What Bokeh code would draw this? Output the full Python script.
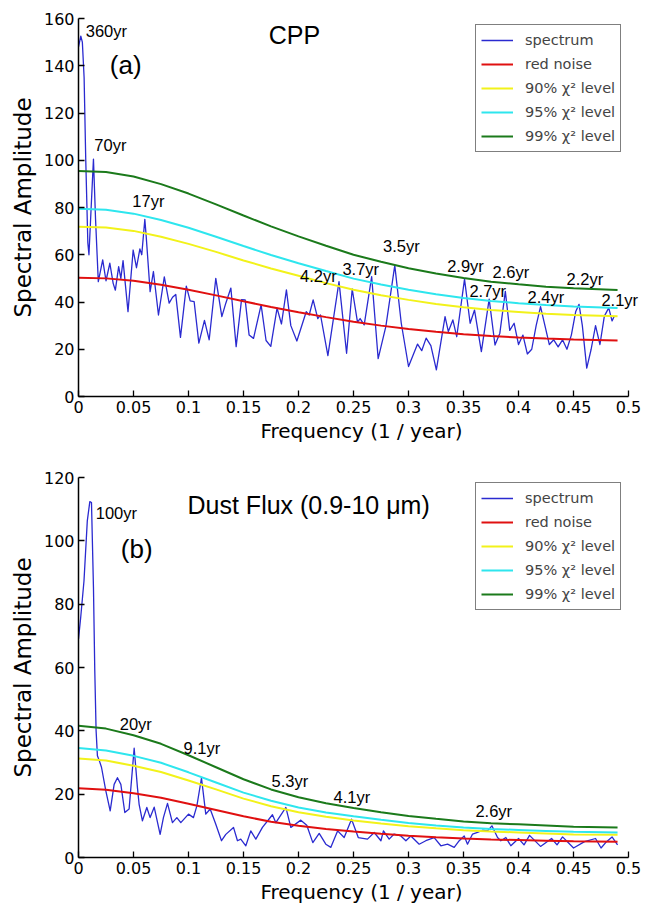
from bokeh.plotting import figure
from bokeh.layouts import column
from bokeh.models import Legend, LegendItem, FixedTicker, Range1d, LabelSet, ColumnDataSource
from bokeh.core.properties import value
from bokeh.embed import file_html
from bokeh.resources import INLINE

# ---------------- data ----------------
x_ticks = [0, 0.05, 0.1, 0.15, 0.2, 0.25, 0.3, 0.35, 0.4, 0.45, 0.5]
x_tick_labels = ["0", "0.05", "0.1", "0.15", "0.2", "0.25", "0.3", "0.35", "0.4", "0.45", "0.5"]
cpp_y_ticks = [0, 20, 40, 60, 80, 100, 120, 140, 160]
dust_y_ticks = [0, 20, 40, 60, 80, 100, 120]

cpp_freq = [0.0, 0.0021, 0.0035, 0.0051, 0.0066, 0.0085, 0.0095, 0.0115, 0.0136, 0.0155,
            0.0180, 0.0220, 0.0250, 0.0285, 0.0315, 0.0335, 0.0365, 0.0385, 0.0405, 0.0450,
            0.0497, 0.0527, 0.0558, 0.0575, 0.0603, 0.0615, 0.0651, 0.0681, 0.0727, 0.0780,
            0.0824, 0.0855, 0.0884, 0.0927, 0.0980, 0.1015, 0.1051, 0.1094, 0.1145, 0.1188,
            0.1248, 0.1303, 0.1339, 0.1385, 0.1433, 0.1482, 0.1515, 0.1551, 0.1591, 0.1660,
            0.1705, 0.1748, 0.1805, 0.1845, 0.1890, 0.1930, 0.1985, 0.2070, 0.2097, 0.2133,
            0.2175, 0.2200, 0.2267, 0.2368, 0.2437, 0.2488, 0.2536, 0.2560, 0.2597, 0.2665,
            0.2724, 0.2794, 0.2875, 0.2934, 0.3000, 0.3082, 0.3120, 0.3160, 0.3203, 0.3253,
            0.3332, 0.3362, 0.3403, 0.3438, 0.3509, 0.3560, 0.3600, 0.3662, 0.3733, 0.3786,
            0.3830, 0.3880, 0.3920, 0.3960, 0.4000, 0.4040, 0.4080, 0.4120, 0.4160, 0.4200,
            0.4240, 0.4280, 0.4320, 0.4360, 0.4400, 0.4440, 0.4480, 0.4520, 0.4550, 0.4580,
            0.4620, 0.4660, 0.4700, 0.4740, 0.4780, 0.4820, 0.4850, 0.4870]
cpp_amp = [148, 152.5, 150, 135, 100, 65, 60, 80, 100.5, 75,
           48.6, 57.8, 49, 56.4, 47.9, 45, 55, 50, 57.5, 35.9,
           62, 54.5, 62.5, 60, 75, 68, 44.4, 52.9, 34.5, 50.6,
           39.5, 42, 43.2, 25, 46.7, 40.5, 40.2, 22.6, 32.2, 24,
           50, 33.8, 39.5, 45.9, 21.1, 41, 40.9, 26, 24.6, 38.8,
           23.7, 21.2, 37.4, 30.7, 45.1, 30, 23.5, 35.9, 34.5, 40.9,
           33, 34.5, 17.3, 48.6, 18.3, 45.5, 31.5, 33, 30.3, 50.7,
           16, 29.7, 55.5, 31, 12.7, 22.2, 19.4, 24.7, 21.5, 11.3,
           33.8, 27.5, 32.4, 25.3, 49.7, 31, 36.6, 19, 41.2, 21.8,
           26.8, 44.5, 28, 31, 22, 26, 18, 20, 30, 38,
           30, 22, 24, 21, 24, 20, 26, 36, 39, 30,
           12, 20, 30, 22, 34, 37.5, 32, 34]

dust_freq = [0.0, 0.002, 0.005, 0.008, 0.0103, 0.0118, 0.0136, 0.0148, 0.0160, 0.0172,
             0.0190, 0.0209, 0.0248, 0.0288, 0.0324, 0.0354, 0.0385, 0.0421, 0.0460, 0.0506,
             0.0536, 0.0551, 0.0581, 0.0621, 0.0651, 0.0688, 0.0742, 0.0772, 0.0809, 0.0854,
             0.0894, 0.0930, 0.1000, 0.1045, 0.1076, 0.1118, 0.1157, 0.1197, 0.1248, 0.1300,
             0.1339, 0.1409, 0.1445, 0.1475, 0.1521, 0.1566, 0.1612, 0.1672, 0.1763, 0.1794,
             0.1885, 0.1930, 0.2021, 0.2075, 0.2130, 0.2188, 0.2248, 0.2294, 0.2355, 0.2415,
             0.2482, 0.2543, 0.2627, 0.2688, 0.2749, 0.2772, 0.2824, 0.2869, 0.2930, 0.2976,
             0.3021, 0.3097, 0.3157, 0.3233, 0.3294, 0.3355, 0.3415, 0.3461, 0.3506, 0.3536,
             0.3582, 0.3627, 0.3673, 0.3718, 0.3758, 0.3809, 0.3839, 0.3885, 0.3930, 0.4000,
             0.4050, 0.4100, 0.4200, 0.4300, 0.4350, 0.4400, 0.4500, 0.4600, 0.4700, 0.4750,
             0.4800, 0.4850, 0.4900]
dust_amp = [69, 75.8, 87.4, 106.3, 112.4, 112.1, 85.3, 59, 40, 32.1,
            30.5, 28.5, 21.1, 14.7, 23.1, 25.2, 23.1, 14.2, 15.3, 34.5,
            22, 16.8, 11.6, 15.8, 12.6, 15.9, 7.3, 12.6, 17.1, 11,
            12.6, 11, 13.7, 12.6, 16.3, 25.1, 13.7, 15.3, 10.5, 5.3,
            7.3, 9.5, 5.3, 5.8, 3.7, 8.4, 5.8, 9.5, 13.5, 11,
            15.8, 9.5, 11.8, 10.2, 4.7, 7.6, 4.2, 3.2, 8.4, 6.3,
            12.1, 6.3, 5.8, 7.9, 5.3, 8.4, 5.8, 7.4, 6.8, 5.3,
            6.8, 4.2, 5.3, 6.3, 3.7, 4.2, 3.2, 5.3, 6.8, 4.2,
            7.4, 7.9, 8.6, 8.4, 10, 6.3, 5.3, 6.3, 3.7, 6,
            4, 7, 3.5, 6, 4, 6.5, 3, 5, 6, 3,
            5, 6.5, 4]

curve_freq = [0, 0.025, 0.05, 0.075, 0.1, 0.125, 0.15, 0.175, 0.2, 0.225,
              0.25, 0.275, 0.3, 0.325, 0.35, 0.375, 0.4, 0.425, 0.45, 0.49]
cpp_red = [50.3, 50.0, 49.0, 47.3, 45.2, 42.8, 40.3, 37.9, 35.7, 33.6,
           31.6, 30.0, 28.6, 27.4, 26.4, 25.6, 25.0, 24.5, 24.1, 23.7]
cpp_90 = [71.9, 71.5, 70.1, 67.6, 64.6, 61.2, 57.6, 54.2, 51.1, 48.0,
          45.2, 42.9, 40.9, 39.2, 37.8, 36.6, 35.8, 35.0, 34.5, 34.0]
cpp_95 = [79.5, 79.0, 77.4, 74.7, 71.4, 67.6, 63.7, 59.9, 56.4, 53.1,
          49.9, 47.4, 45.2, 43.3, 41.7, 40.4, 39.5, 38.7, 38.1, 37.5]
cpp_99 = [95.5, 95.0, 93.1, 89.9, 85.9, 81.3, 76.6, 72.0, 67.8, 63.8,
          60.0, 57.0, 54.3, 52.1, 50.2, 48.6, 47.5, 46.5, 45.8, 45.1]
dust_red = [21.9, 21.4, 20.3, 18.9, 17.0, 15.0, 13.0, 11.3, 10.0, 9.0,
            8.2, 7.5, 6.9, 6.4, 6.0, 5.7, 5.5, 5.3, 5.1, 5.0]
dust_90 = [31.3, 30.6, 29.0, 27.0, 24.3, 21.5, 18.6, 16.2, 14.3, 12.9,
           11.7, 10.7, 9.9, 9.2, 8.6, 8.2, 7.9, 7.6, 7.3, 7.2]
dust_95 = [34.6, 33.8, 32.1, 29.9, 26.9, 23.7, 20.5, 17.9, 15.8, 14.2,
           13.0, 11.9, 10.9, 10.1, 9.5, 9.0, 8.7, 8.4, 8.1, 7.9]
dust_99 = [41.6, 40.7, 38.6, 35.9, 32.3, 28.5, 24.7, 21.5, 19.0, 17.1,
           15.6, 14.3, 13.1, 12.2, 11.4, 10.8, 10.5, 10.1, 9.7, 9.5]

cpp_peak_labels = ["70yr", "17yr", "4.2yr", "3.7yr", "3.5yr", "2.9yr", "2.7yr", "2.6yr", "2.4yr", "2.2yr", "2.1yr"]
cpp_peak_x = [0.0290, 0.0635, 0.218, 0.2566, 0.2935, 0.3518, 0.372, 0.393, 0.4248, 0.4603, 0.492]
cpp_peak_y = [104.0, 80.1, 48.6, 51.5, 61.1, 52.6, 42.0, 50.2, 39.6, 47.2, 38.4]
cpp_top_label = "360yr"
cpp_top_x = 0.0066
cpp_top_y = 152.2

dust_peak_labels = ["20yr", "9.1yr", "5.3yr", "4.1yr", "2.6yr"]
dust_peak_x = [0.0521, 0.1121, 0.1921, 0.2485, 0.3775]
dust_peak_y = [40.2, 32.6, 22.3, 17.1, 12.9]
dust_top_label = "100yr"
dust_top_x = 0.0157
dust_top_y = 107.0

legend_labels = ["spectrum", "red noise", "90% χ² level", "95% χ² level", "99% χ² level"]

# ---------------- style ----------------
C_SPEC = "#2a2ad0"
C_RED = "#e01010"
C_YEL = "#f2f21a"
C_CYAN = "#2ee6ee"
C_GREEN = "#1b7a1b"
ANNOT_FONT = value("Liberation Sans")
AXIS_FONT = "DejaVu Sans"
X_VIEW_END = 0.5145   # frame extends a little past 0.5 so the "2.1yr" label is not clipped
FRAME_W = 566


def add_labels(p, xs, ys, texts, size, align):
    src = ColumnDataSource(dict(x=xs, y=ys, text=texts))
    p.add_layout(LabelSet(x="x", y="y", text="text", source=src, text_font=ANNOT_FONT,
                          text_font_size=value(size), text_align=value(align),
                          text_baseline=value("alphabetic"), text_color=value("black")))


def make_panel(freq, amp, red, l90, l95, l99, ymax, yticks, top_pad, frame_h, bottom_pad,
               legend_top_off, title, title_x, title_y, tag, tag_x, tag_y,
               top_label, top_x, top_y, labels, lx, ly):
    p = figure(frame_width=FRAME_W, frame_height=frame_h, output_backend="svg", toolbar_location=None,
               x_range=Range1d(0, X_VIEW_END), y_range=Range1d(0, ymax),
               min_border_left=78, min_border_right=0, min_border_top=top_pad,
               min_border_bottom=bottom_pad, outline_line_color=None, background_fill_color="white")
    p.grid.visible = False
    for ax, ticks in ((p.xaxis[0], x_ticks), (p.yaxis[0], yticks)):
        ax.ticker = FixedTicker(ticks=ticks)
        ax.major_tick_in = 6
        ax.major_tick_out = 0
        ax.minor_tick_in = 0
        ax.minor_tick_out = 0
        ax.axis_line_width = 1.5
        ax.axis_line_color = "black"
        ax.major_tick_line_width = 1.3
        ax.major_label_text_font = AXIS_FONT
        ax.major_label_text_font_size = "16px"
        ax.major_label_text_color = "black"
        ax.axis_label_text_font = AXIS_FONT
        ax.axis_label_text_font_style = "normal"
        ax.axis_label_text_color = "black"
    p.xaxis[0].bounds = (0, 0.5)
    p.xaxis[0].major_label_overrides = {t: s for t, s in zip(x_ticks, x_tick_labels)}
    p.xaxis[0].axis_label = "Frequency (1 / year)"
    p.xaxis[0].axis_label_text_font_size = "20px"
    p.xaxis[0].axis_label_standoff = 3
    p.xaxis[0].major_label_standoff = 4
    p.yaxis[0].axis_label = "Spectral Amplitude"
    p.yaxis[0].axis_label_text_font_size = "23px"
    p.yaxis[0].axis_label_standoff = 5
    p.yaxis[0].major_label_standoff = 4

    r_spec = p.line(freq, amp, line_color=C_SPEC, line_width=1.3, line_join="round")
    r_red = p.line(curve_freq, red, line_color=C_RED, line_width=2)
    r_90 = p.line(curve_freq, l90, line_color=C_YEL, line_width=2)
    r_95 = p.line(curve_freq, l95, line_color=C_CYAN, line_width=2)
    r_99 = p.line(curve_freq, l99, line_color=C_GREEN, line_width=2)

    add_labels(p, [title_x], [title_y], [title], "25px", "left")
    add_labels(p, [tag_x], [tag_y], [tag], "26px", "left")
    add_labels(p, [top_x], [top_y], [top_label], "16.5px", "left")
    add_labels(p, lx, ly, labels, "16.5px", "center")

    items = [LegendItem(label=lab, renderers=[r]) for lab, r in
             zip(legend_labels, [r_spec, r_red, r_90, r_95, r_99])]
    leg = Legend(items=items, location=(397, frame_h - legend_top_off - 127), padding=5, spacing=4,
                 glyph_width=32, glyph_height=20, label_height=20, label_standoff=12,
                 label_text_font=AXIS_FONT, label_text_font_size="14.5px",
                 border_line_color="black", border_line_width=1.5,
                 background_fill_alpha=1.0, background_fill_color="white", margin=0)
    p.add_layout(leg)
    return p


p1 = make_panel(cpp_freq, cpp_amp, cpp_red, cpp_90, cpp_95, cpp_99, 160, cpp_y_ticks, 18, 378, 52, 7,
                "CPP", 0.173, 149.4, "(a)", 0.0285, 136.7,
                cpp_top_label, cpp_top_x, cpp_top_y, cpp_peak_labels, cpp_peak_x, cpp_peak_y)

p2 = make_panel(dust_freq, dust_amp, dust_red, dust_90, dust_95, dust_99, 120, dust_y_ticks, 29, 380, 44, 6,
                "Dust Flux (0.9-10 μm)", 0.0991, 108.6, "(b)", 0.0385, 94.5,
                dust_top_label, dust_top_x, dust_top_y, dust_peak_labels, dust_peak_x, dust_peak_y)

layout = column(p1, p2, spacing=0)
open("out.html", "w").write(file_html(layout, INLINE))
